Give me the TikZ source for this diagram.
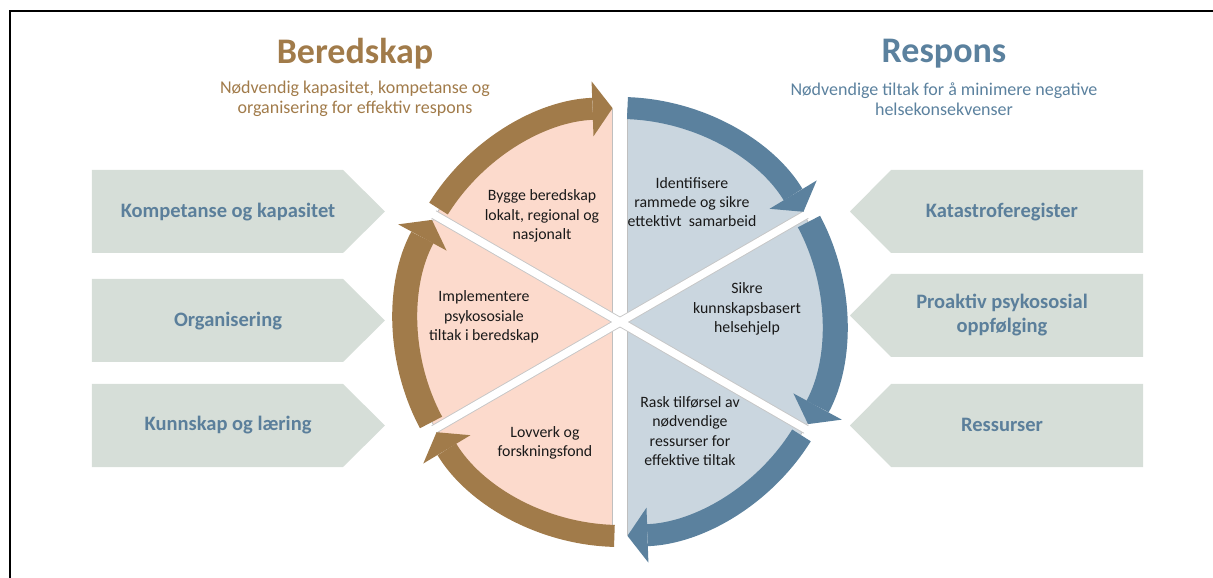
\documentclass[tikz,border=0pt]{standalone}
\usepackage{fontspec}
\setmainfont{Carlito}
\usetikzlibrary{arrows.meta}
\definecolor{brownarrow}{RGB}{161,123,74}
\definecolor{bluearrow}{RGB}{91,129,158}
\definecolor{pinkfill}{RGB}{252,218,204}
\definecolor{bluefill}{RGB}{202,214,223}
\definecolor{boxfill}{RGB}{214,222,216}
\definecolor{boxtext}{RGB}{91,127,155}
\tikzset{
	brownband/.style={draw=brownarrow, line width=22pt, -{Triangle[length=20pt,width=55pt,line width=0pt]}},
	blueband/.style={draw=bluearrow, line width=22pt, -{Triangle[length=20pt,width=55pt,line width=0pt]}},
	sidebox/.style={fill=boxfill},
	boxlabel/.style={text=boxtext, font=\fontsize{20.5}{24.5}\selectfont\bfseries, align=center},
	sector/.style={text=black!90, font=\fontsize{15.8}{19.3}\selectfont, align=center},
	headline/.style={font=\fontsize{36}{40}\selectfont\bfseries},
	subline/.style={font=\fontsize{18}{20.5}\selectfont, align=center},
	gapedge/.style={draw=gray!45, line width=9.4pt},
	gapline/.style={draw=white, line width=7.6pt}
}
\begin{document}
\begin{tikzpicture}[x=1pt,y=1pt]
				\useasboundingbox (-620,-256) rectangle (593,322);
				\draw[line width=2.5pt] (593,311) -- (-610,311) -- (-610,-256);
				
				\node[headline, text=brownarrow] (beredskap) at (-265,268) {Beredskap};
				\node[subline, text=brownarrow] (beredsub) at (-265,223) {Nødvendig kapasitet, kompetanse og\\organisering for effektiv respons};
				\node[headline, text=bluearrow] (respons) at (324,268) {Respons};
				\node[subline, text=bluearrow] (responssub) at (324,223) {Nødvendige tiltak for å minimere negative\\helsekonsekvenser};
				
				\fill[sidebox] (-528,152) -- (-277,152) -- (-235,110.5) -- (-277,69) -- (-528,69) -- cycle;
				\fill[sidebox] (-528,43) -- (-277,43) -- (-235,1.5) -- (-277,-40) -- (-528,-40) -- cycle;
				\fill[sidebox] (-528,-62) -- (-277,-62) -- (-235,-103.5) -- (-277,-145) -- (-528,-145) -- cycle;
				\fill[sidebox] (523,152) -- (271,152) -- (230,110.5) -- (271,69) -- (523,69) -- cycle;
				\fill[sidebox] (523,48) -- (271,48) -- (230,6.5) -- (271,-35) -- (523,-35) -- cycle;
				\fill[sidebox] (523,-62) -- (271,-62) -- (230,-103.5) -- (271,-145) -- (523,-145) -- cycle;
				\node[boxlabel] (kompetanse) at (-392,110) {Kompetanse og kapasitet};
				\node[boxlabel] (organisering) at (-392,1) {Organisering};
				\node[boxlabel] (kunnskap) at (-392,-103) {Kunnskap og læring};
				\node[boxlabel] (katastrofe) at (382,110) {Katastroferegister};
				\node[boxlabel] (proaktiv) at (382,7) {Proaktiv psykososial\\oppfølging};
				\node[boxlabel] (ressurser) at (382,-103) {Ressurser};
				
				\filldraw[fill=pinkfill, draw=gray!50, line width=0.8pt] (92:213) arc[start angle=92, end angle=268, radius=213] -- cycle;
				\filldraw[fill=bluefill, draw=gray!50, line width=0.8pt] (-88:213) arc[start angle=-88, end angle=88, radius=213] -- cycle;
				\foreach \a in {30,150,210,330} \draw[gapedge] (0,0) -- (\a:215);
				\foreach \a in {30,150,210,330} \draw[gapline] (0,0) -- (\a:217);
				
				\draw[brownband] (268.5:214) arc[start angle=268.5, end angle=211, radius=214];
				\draw[brownband, line width=25pt] (208:214) arc[start angle=208, end angle=151.5, radius=214];
				\draw[brownband] (148:214) arc[start angle=148, end angle=92, radius=214];
				\draw[blueband] (88:214) arc[start angle=88, end angle=31, radius=214];
				\draw[blueband, line width=25pt] (28:214) arc[start angle=28, end angle=-28.5, radius=214];
				\draw[blueband] (-32:214) arc[start angle=-32, end angle=-88, radius=214];
				
				\node[sector] (bygge) at (-78,106) {Bygge beredskap\\lokalt, regional og\\nasjonalt};
				\node[sector] (implementere) at (-136,5) {Implementere\\psykososiale\\tiltak i beredskap};
				\node[sector] (lovverk) at (-75,-121) {Lovverk og\\forskningsfond};
				\node[sector] (identifisere) at (72,120) {Identifisere\\rammede og sikre\\ettektivt\ \ samarbeid};
				\node[sector] (sikre) at (127,13) {Sikre\\kunnskapsbasert\\helsehjelp};
				\node[sector] (rask) at (70,-109) {Rask tilførsel av\\nødvendige\\ressurser for\\effektive tiltak};
\end{tikzpicture}
\end{document}
